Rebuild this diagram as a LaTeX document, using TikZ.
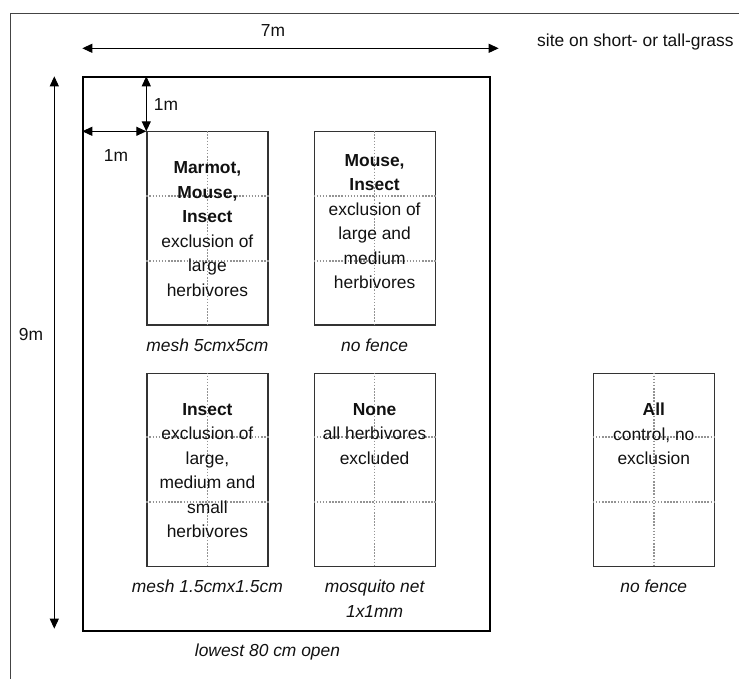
\documentclass[tikz,border=0pt]{standalone}
\usepackage{fontspec}
\setmainfont{Liberation Sans}
\usepackage{tikz}
\usetikzlibrary{arrows.meta,calc,positioning}
\definecolor{exInk}{HTML}{111111}
\definecolor{exFrame}{HTML}{444444}
\definecolor{exEdge}{HTML}{333333}
\definecolor{exGrid}{HTML}{939393}
\tikzset{
  ex diagram/.style={font=\fontsize{17.4}{24.5}\selectfont, text=exInk,
    x=1pt, y=-1pt, line cap=butt},
  ex frame/.style={draw=exFrame, line width=0.9pt},
  ex fence/.style={draw=black, line width=1.4pt, inner sep=0pt,
    minimum width=407pt, minimum height=554pt},
  ex plot/.style={draw=exEdge, line width=1.2pt, inner sep=0pt,
    minimum width=121pt, minimum height=193pt},
  ex grid/.style={draw=exGrid, line width=1.6pt, dash pattern=on 1.5pt off 1.6pt},
  ex dim/.style={{Triangle[length=10pt,width=9pt]}-{Triangle[length=10pt,width=9pt]},
    draw=black, line width=1.1pt},
  ex text/.style={align=center, inner sep=0pt, anchor=north},
  ex caption/.style={font=\fontsize{17.4}{24.5}\selectfont\itshape,
    align=center, inner sep=0pt},
  ex label/.style={inner sep=0pt}
}

\begin{document}
\begin{tikzpicture}[ex diagram]
\useasboundingbox (0,0) rectangle (739,679);
\draw[ex frame] (739,13) -| (10,679);
\node[ex fence] (fence) at (286.5,354) {};
% plots
\node[ex plot, anchor=north west] (plotA) at ([xshift=64pt,yshift=-55pt]fence.north west) {};
\node[ex plot, right=45pt of plotA] (plotB) {};
\node[ex plot, below=47pt of plotA] (plotC) {};
\node[ex plot, right=45pt of plotC] (plotD) {};
\node[ex plot, right=157pt of plotD] (plotE) {};
\foreach \p in {plotA,plotB,plotC,plotD,plotE}{
  \draw[ex grid] (\p.north) -- (\p.south);
  \draw[ex grid] ($(\p.north west)!1/3!(\p.south west)$) -- ($(\p.north east)!1/3!(\p.south east)$);
  \draw[ex grid] ($(\p.north west)!2/3!(\p.south west)$) -- ($(\p.north east)!2/3!(\p.south east)$);
}
\node[ex text] (textA) at ([yshift=-30.5pt]plotA.north)
  {\textbf{Marmot,}\\\textbf{Mouse,}\\\textbf{Insect}\\exclusion of\\large\\herbivores};
\node[ex text] (textB) at ([yshift=-23pt]plotB.north)
  {\textbf{Mouse,}\\\textbf{Insect}\\exclusion of\\large and\\medium\\herbivores};
\node[ex text] (textC) at ([yshift=-30.5pt]plotC.north)
  {\textbf{Insect}\\exclusion of\\large,\\medium and\\small\\herbivores};
\node[ex text] (textD) at ([yshift=-30.5pt]plotD.north)
  {\textbf{None}\\all herbivores\\excluded};
\node[ex text] (textE) at ([yshift=-30.5pt]plotE.north)
  {\textbf{All}\\control, no\\exclusion};
% captions
\node[ex caption, below=13pt of plotA] (capA) {mesh 5cmx5cm};
\node[ex caption, below=13pt of plotB] (capB) {no fence};
\node[ex caption, below=13pt of plotC] (capC) {mesh 1.5cmx1.5cm};
\node[ex caption, below=13pt of plotD] (capD) {mosquito net\\1x1mm};
\node[ex caption, below=13pt of plotE] (capE) {no fence};
\node[ex caption, below=12pt of fence, xshift=-19pt] (capFence) {lowest 80 cm open};
% dimensions
\draw[ex dim] ([yshift=28pt]fence.north west) -- ([xshift=8pt,yshift=28pt]fence.north east);
\draw[ex dim] ([xshift=-28pt]fence.north west) -- ([xshift=-28pt,yshift=3pt]fence.south west);
\draw[ex dim] (fence.north -| plotA.north west) -- (plotA.north west);
\draw[ex dim] (fence.west |- plotA.north west) -- (plotA.north west);
\node[ex label] (lenWide) at (273,31) {7m};
\node[ex label] (lenTall) at (31,335) {9m};
\node[ex label] (gapTop) at (166,105) {1m};
\node[ex label] (gapLeft) at (116,156) {1m};
\node[ex label, anchor=west] (site) at (537,42) {site on short- or tall-grass};
\end{tikzpicture}
\end{document}
